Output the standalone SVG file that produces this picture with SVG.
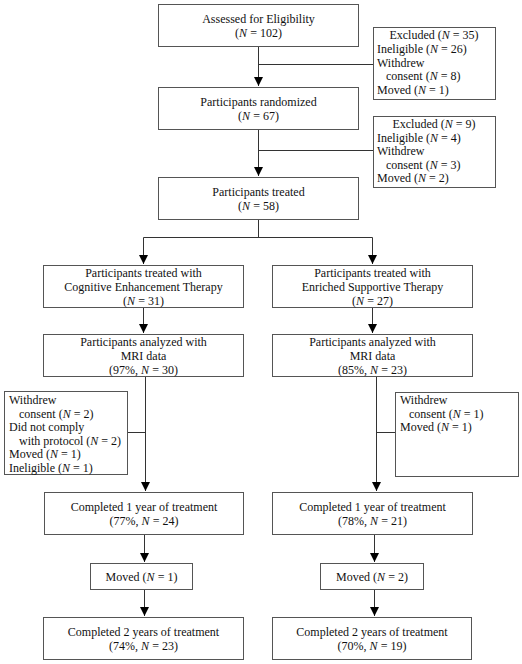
<svg xmlns="http://www.w3.org/2000/svg" width="522" height="664" viewBox="0 0 522 664">
<defs>
<marker id="ah" markerUnits="userSpaceOnUse" markerWidth="10" markerHeight="9" refX="9" refY="4.5" orient="auto">
<path d="M0,0 L9,4.5 L0,9 z" fill="#000"/>
</marker>
<style>
rect{fill:#fff;stroke:#555;stroke-width:1}
text{font-family:"Liberation Serif","Times New Roman",serif;font-size:12px;fill:#111}
.c{text-anchor:middle}
.i{font-style:italic}
.ln{fill:none;stroke:#333;stroke-width:1}
</style>
</defs>
<rect x="0" y="0" width="522" height="664" style="fill:#fff;stroke:none"/>
<g id="connectors">
<path class="ln" d="M258.5,46 V86" marker-end="url(#ah)"/>
<path class="ln" d="M258.5,64.5 H373"/>
<path class="ln" d="M258.5,129 V176" marker-end="url(#ah)"/>
<path class="ln" d="M258.5,150.5 H373"/>
<path class="ln" d="M258.5,219 V237.5 M143.5,237.5 H372.5"/>
<path class="ln" d="M143.5,237.5 V264" marker-end="url(#ah)"/>
<path class="ln" d="M372.5,237.5 V264" marker-end="url(#ah)"/>
<path class="ln" d="M143.5,307 V333" marker-end="url(#ah)"/>
<path class="ln" d="M372.5,307 V333" marker-end="url(#ah)"/>
<path class="ln" d="M145.5,376 V491" marker-end="url(#ah)"/>
<path class="ln" d="M127,432.5 H145.5"/>
<path class="ln" d="M376.5,376 V491" marker-end="url(#ah)"/>
<path class="ln" d="M376.5,432.5 H395"/>
<path class="ln" d="M144.5,534 V562" marker-end="url(#ah)"/>
<path class="ln" d="M374.5,534 V562" marker-end="url(#ah)"/>
<path class="ln" d="M144.5,589 V616" marker-end="url(#ah)"/>
<path class="ln" d="M374.5,589 V616" marker-end="url(#ah)"/>
</g>
<g id="assessed">
<rect x="158.5" y="4.5" width="200" height="42"/>
<text class="c" x="258.5" y="23">Assessed for Eligibility</text>
<text class="c" x="258.5" y="37">(<tspan class="i">N</tspan> = 102)</text>
</g>
<g id="excluded1">
<rect x="373.5" y="27.5" width="122" height="72"/>
<text class="c" x="434" y="39">Excluded (<tspan class="i">N</tspan> = 35)</text>
<text x="377" y="53">Ineligible (<tspan class="i">N</tspan> = 26)</text>
<text x="377" y="66.5">Withdrew</text>
<text x="386" y="80">consent (<tspan class="i">N</tspan> = 8)</text>
<text x="377" y="93.5">Moved (<tspan class="i">N</tspan> = 1)</text>
</g>
<g id="randomized">
<rect x="158.5" y="87.5" width="200" height="42"/>
<text class="c" x="258.5" y="106">Participants randomized</text>
<text class="c" x="258.5" y="120">(<tspan class="i">N</tspan> = 67)</text>
</g>
<g id="excluded2">
<rect x="373.5" y="116.5" width="122" height="71"/>
<text class="c" x="434" y="128">Excluded (<tspan class="i">N</tspan> = 9)</text>
<text x="377" y="141.5">Ineligible (<tspan class="i">N</tspan> = 4)</text>
<text x="377" y="155">Withdrew</text>
<text x="386" y="168.5">consent (<tspan class="i">N</tspan> = 3)</text>
<text x="377" y="182">Moved (<tspan class="i">N</tspan> = 2)</text>
</g>
<g id="treated">
<rect x="158.5" y="177.5" width="200" height="42"/>
<text class="c" x="258.5" y="196">Participants treated</text>
<text class="c" x="258.5" y="210">(<tspan class="i">N</tspan> = 58)</text>
</g>
<g id="cet">
<rect x="43.5" y="265.5" width="200" height="42"/>
<text class="c" x="143.5" y="277">Participants treated with</text>
<text class="c" x="143.5" y="291">Cognitive Enhancement Therapy</text>
<text class="c" x="143.5" y="304.5">(<tspan class="i">N</tspan> = 31)</text>
</g>
<g id="est">
<rect x="272.5" y="265.5" width="200" height="42"/>
<text class="c" x="372.5" y="277">Participants treated with</text>
<text class="c" x="372.5" y="291">Enriched Supportive Therapy</text>
<text class="c" x="372.5" y="304.5">(<tspan class="i">N</tspan> = 27)</text>
</g>
<g id="cet_mri">
<rect x="43.5" y="334.5" width="200" height="42"/>
<text class="c" x="143.5" y="346">Participants analyzed with</text>
<text class="c" x="143.5" y="360">MRI data</text>
<text class="c" x="143.5" y="373.5">(97%, <tspan class="i">N</tspan> = 30)</text>
</g>
<g id="est_mri">
<rect x="272.5" y="334.5" width="200" height="42"/>
<text class="c" x="372.5" y="346">Participants analyzed with</text>
<text class="c" x="372.5" y="360">MRI data</text>
<text class="c" x="372.5" y="373.5">(85%, <tspan class="i">N</tspan> = 23)</text>
</g>
<g id="cet_excluded">
<rect x="4.5" y="391.5" width="123" height="83"/>
<text x="9" y="404">Withdrew</text>
<text x="19" y="417.5">consent (<tspan class="i">N</tspan> = 2)</text>
<text x="9" y="431">Did not comply</text>
<text x="19" y="444.5">with protocol (<tspan class="i">N</tspan> = 2)</text>
<text x="9" y="458">Moved (<tspan class="i">N</tspan> = 1)</text>
<text x="9" y="471.5">Ineligible (<tspan class="i">N</tspan> = 1)</text>
</g>
<g id="est_excluded">
<rect x="395.5" y="392.5" width="123" height="84"/>
<text x="400" y="404">Withdrew</text>
<text x="409" y="417.5">consent (<tspan class="i">N</tspan> = 1)</text>
<text x="400" y="431">Moved (<tspan class="i">N</tspan> = 1)</text>
</g>
<g id="cet_year1">
<rect x="44.5" y="492.5" width="199" height="42"/>
<text class="c" x="144" y="511">Completed 1 year of treatment</text>
<text class="c" x="144" y="525">(77%, <tspan class="i">N</tspan> = 24)</text>
</g>
<g id="est_year1">
<rect x="272.5" y="492.5" width="200" height="42"/>
<text class="c" x="372.5" y="511">Completed 1 year of treatment</text>
<text class="c" x="372.5" y="525">(78%, <tspan class="i">N</tspan> = 21)</text>
</g>
<g id="cet_moved">
<rect x="90.5" y="563.5" width="102" height="26"/>
<text class="c" x="141.5" y="580.5">Moved (<tspan class="i">N</tspan> = 1)</text>
</g>
<g id="est_moved">
<rect x="320.5" y="563.5" width="103" height="26"/>
<text class="c" x="372" y="580.5">Moved (<tspan class="i">N</tspan> = 2)</text>
</g>
<g id="cet_year2">
<rect x="43.5" y="617.5" width="200" height="42"/>
<text class="c" x="143.5" y="636">Completed 2 years of treatment</text>
<text class="c" x="143.5" y="650">(74%, <tspan class="i">N</tspan> = 23)</text>
</g>
<g id="est_year2">
<rect x="272.5" y="617.5" width="199" height="42"/>
<text class="c" x="372" y="636">Completed 2 years of treatment</text>
<text class="c" x="372" y="650">(70%, <tspan class="i">N</tspan> = 19)</text>
</g>
</svg>
